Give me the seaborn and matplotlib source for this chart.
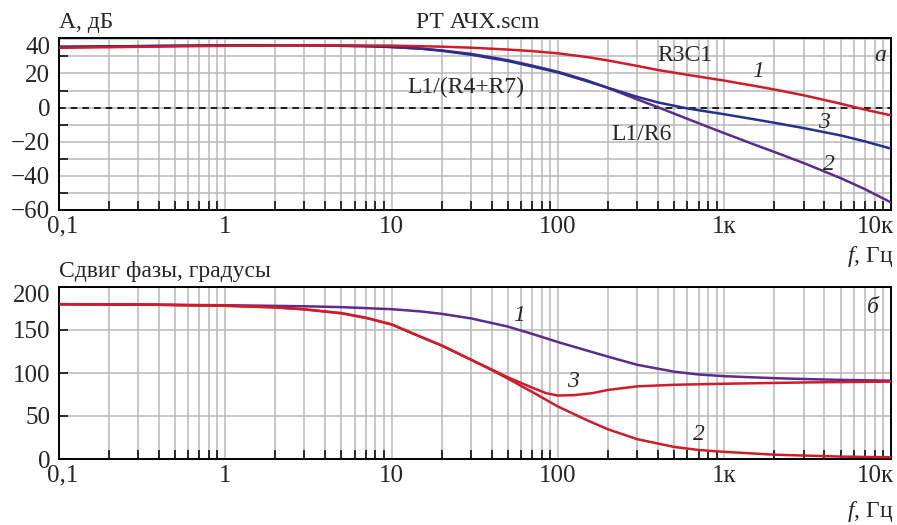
import numpy as np
import pandas as pd
import matplotlib
matplotlib.use("Agg")
import matplotlib.pyplot as plt
import seaborn as sns
from matplotlib.ticker import FixedLocator, NullFormatter, LogLocator
import matplotlib.transforms as mtransforms

# ---------------- data ----------------
# Amplitude (dB)
amp1_f = [0.1, 0.3, 1, 3, 10, 20, 30, 50, 70, 100, 150, 200, 300, 400, 600, 1000, 1500, 2000, 3000, 5000, 7000, 10000]
amp1_v = [35.0, 35.6, 36.2, 36.5, 36.3, 35.7, 35.1, 34.0, 33.1, 31.8, 29.6, 27.6, 24.4, 22.0, 19.2, 15.8, 12.8, 10.6, 7.2, 2.3, -1.2, -4.5]

amp3_f = [0.1, 0.3, 1, 3, 7, 10, 15, 20, 30, 50, 70, 100, 150, 200, 300, 400, 600, 1000, 1500, 2000, 3000, 5000, 7000, 10000]
amp3_v = [35.6, 36.0, 36.5, 36.5, 36.0, 35.5, 34.5, 33.3, 31.0, 27.3, 24.1, 20.6, 15.4, 11.6, 6.3, 3.0, -0.5, -3.9, -6.8, -8.9, -12.0, -16.3, -19.8, -24.0]

amp2_f = [0.1, 0.3, 1, 3, 7, 10, 15, 20, 30, 50, 70, 100, 150, 200, 300, 400, 600, 1000, 1500, 2000, 3000, 5000, 7000, 10000]
amp2_v = [35.6, 36.0, 36.5, 36.5, 36.0, 35.5, 34.6, 33.5, 31.5, 27.8, 24.6, 21.0, 15.9, 11.5, 4.8, 0.2, -6.6, -15.0, -21.5, -26.0, -32.5, -41.3, -47.8, -55.5]

# Phase (degrees)
ph1_f = [0.1, 0.3, 1, 3, 5, 10, 15, 20, 30, 50, 70, 100, 150, 200, 300, 500, 700, 1000, 2000, 3000, 5000, 10000]
ph1_v = [180, 179.6, 178.8, 177.6, 176.6, 174.2, 171.6, 168.8, 163.5, 154, 145.5, 136, 126, 119, 109.5, 101.5, 98.3, 96.3, 94, 93, 92, 91]

ph2_f = [0.1, 0.3, 1, 2, 3, 5, 7, 10, 15, 20, 30, 40, 50, 70, 100, 150, 200, 300, 500, 700, 1000, 2000, 5000, 10000]
ph2_v = [180, 179.6, 178.2, 176.3, 174, 169.5, 164.2, 156.5, 142, 132, 115.5, 103.5, 93.5, 78, 61, 45, 34.5, 23, 14, 10.5, 8.3, 5, 2.8, 2]

ph3_f = [0.1, 0.3, 1, 2, 3, 5, 7, 10, 15, 20, 30, 40, 50, 60, 70, 85, 100, 125, 160, 200, 300, 500, 1000, 3000, 10000]
ph3_v = [180, 179.6, 178.2, 176.3, 174, 169.5, 164.2, 156.5, 142, 132, 115.5, 104, 95, 88.5, 83, 76.5, 73.8, 74.3, 76.5, 80.3, 84.5, 86.3, 87.5, 89, 90]

x_ticks = [0.1, 1, 10, 100, 1000, 10000]
x_labels = ["0,1", "1", "10", "100", "1к", "10к"]
amp_ticks = [-60, -40, -20, 0, 20, 40]
amp_labels = ["\u221260", "\u221240", "\u221220", "0", "20", "40"]
amp_minor = [-50, -30, -10, 10, 30]
ph_ticks = [0, 50, 100, 150, 200]

RED = "#d01c2a"
NAVY = "#27308c"
PURPLE = "#5c2a90"
GRID = "#b8b8b8"

# ---------------- style ----------------
sns.set_style("white")
plt.rcParams["font.family"] = ["Liberation Serif", "DejaVu Serif"]
plt.rcParams["mathtext.fontset"] = "custom"
plt.rcParams["mathtext.it"] = "Liberation Serif:italic"
plt.rcParams["mathtext.rm"] = "Liberation Serif"
FS = 17      # annotation / title text
TFS = 18     # tick labels

fig = plt.figure(figsize=(8.97, 5.25), dpi=100)
W, H = 897, 525
def ax_rect(l, t, r, b):
    return [l / W, 1 - b / H, (r - l) / W, (b - t) / H]

ax1 = fig.add_axes(ax_rect(58.7, 38.3, 890.7, 210))
ax2 = fig.add_axes(ax_rect(58.7, 287, 890.7, 459))

def style_x(ax):
    ax.set_xscale("log")
    ax.set_xlim(0.1, 10000)
    ax.xaxis.set_major_locator(FixedLocator(x_ticks))
    ax.set_xticklabels(x_labels, fontsize=TFS)
    ax.xaxis.set_minor_locator(LogLocator(base=10, subs=range(2, 10), numticks=20))
    ax.xaxis.set_minor_formatter(NullFormatter())
    ax.tick_params(axis="x", which="both", bottom=True, top=False)
    ax.tick_params(axis="x", which="major", length=0, pad=4)
    ax.tick_params(axis="x", which="minor", direction="in", length=6.5, width=1.1, color="black")
    ax.grid(True, axis="x", which="both", color=GRID, lw=1.1)
    ax.set_axisbelow(True)
    for s in ax.spines.values():
        s.set_color("black")
        s.set_linewidth(1.4)
    labs = ax.get_xticklabels()
    labs[0].set_transform(labs[0].get_transform() + mtransforms.ScaledTranslation(4 / 100, 0, fig.dpi_scale_trans))
    labs[-1].set_horizontalalignment("right")
    labs[-1].set_transform(labs[-1].get_transform() + mtransforms.ScaledTranslation(3 / 100, 0, fig.dpi_scale_trans))

# ---- top: amplitude ----
amp_df = pd.concat([
    pd.DataFrame({"f": amp1_f, "v": amp1_v, "c": "1"}),
    pd.DataFrame({"f": amp3_f, "v": amp3_v, "c": "3"}),
    pd.DataFrame({"f": amp2_f, "v": amp2_v, "c": "2"}),
])
ax1.axhline(0, color="black", lw=1.2, ls=(0, (4, 3)), zorder=1.5)
sns.lineplot(data=amp_df, x="f", y="v", hue="c", palette={"1": RED, "3": NAVY, "2": PURPLE},
             hue_order=["2", "3", "1"], estimator=None, lw=1.8, legend=False, ax=ax1, zorder=3)
style_x(ax1)
ax1.set_ylim(-60, 40.6)
ax1.yaxis.set_major_locator(FixedLocator(amp_ticks))
ax1.set_yticklabels(amp_labels, fontsize=TFS)
ax1.yaxis.set_minor_locator(FixedLocator(amp_minor))
ax1.tick_params(axis="y", which="both", left=True, right=False)
ax1.tick_params(axis="y", which="major", length=0, pad=6)
ax1.tick_params(axis="y", which="minor", direction="in", length=6.5, width=1.1, color="black")
ax1.grid(True, axis="y", which="both", color=GRID, lw=1.1)
ax1.set_xlabel("")
ax1.set_ylabel("")

ax1.text(577, 30.8, "R3C1", fontsize=FS, ha="center", va="center")
ax1.text(1590, 21.0, "1", fontsize=FS, style="italic", ha="center", va="center")
ax1.text(28, 11.9, "L1/(R4+R7)", fontsize=FS, ha="center", va="center")
ax1.text(3960, -8.6, "3", fontsize=FS, style="italic", ha="center", va="center")
ax1.text(318, -16.0, "L1/R6", fontsize=FS, ha="center", va="center")
ax1.text(4250, -33.5, "2", fontsize=FS, style="italic", ha="center", va="center")
ax1.text(0.987, 0.9, "а", fontsize=FS, style="italic", ha="center", va="center", transform=ax1.transAxes)

# ---- bottom: phase ----
ph_df = pd.concat([
    pd.DataFrame({"f": ph1_f, "v": ph1_v, "c": "1"}),
    pd.DataFrame({"f": ph2_f, "v": ph2_v, "c": "2"}),
    pd.DataFrame({"f": ph3_f, "v": ph3_v, "c": "3"}),
])
sns.lineplot(data=ph_df, x="f", y="v", hue="c", palette={"1": PURPLE, "2": RED, "3": RED},
             estimator=None, lw=1.8, legend=False, ax=ax2, zorder=3)
style_x(ax2)
ax2.set_ylim(0, 200)
ax2.yaxis.set_major_locator(FixedLocator(ph_ticks))
ax2.set_yticklabels([str(t) for t in ph_ticks], fontsize=TFS)
ax2.tick_params(axis="y", which="both", left=True, right=False)
ax2.tick_params(axis="y", which="major", direction="in", length=6.5, width=1.1, color="black", pad=6)
ax2.grid(True, axis="y", which="major", color=GRID, lw=1.1)
ax2.set_xlabel("")
ax2.set_ylabel("")

ax2.text(58.5, 167, "1", fontsize=FS, style="italic", ha="center", va="center")
ax2.text(124, 90.5, "3", fontsize=FS, style="italic", ha="center", va="center")
ax2.text(700, 29, "2", fontsize=FS, style="italic", ha="center", va="center")
ax2.text(0.979, 0.878, "б", fontsize=FS, style="italic", ha="center", va="center", transform=ax2.transAxes)

# shift top y labels down slightly
for ax in (ax1, ax2):
    lab = ax.get_yticklabels()[-1]
    lab.set_transform(lab.get_transform() + mtransforms.ScaledTranslation(0, -6 / 100, fig.dpi_scale_trans))

# ---- figure texts ----
fig.text(58.7 / W, 1 - 28 / H, "А, дБ", fontsize=FS, ha="left", va="baseline")
fig.text(478 / W, 1 - 28 / H, "РТ АЧХ.scm", fontsize=FS, ha="center", va="baseline")
fig.text(58.7 / W, 1 - 277 / H, "Сдвиг фазы, градусы", fontsize=FS, ha="left", va="baseline")
fig.text(893 / W, 1 - 262 / H, "$f$, Гц", fontsize=FS, ha="right", va="baseline")
fig.text(893 / W, 1 - 517 / H, "$f$, Гц", fontsize=FS, ha="right", va="baseline")

fig.savefig("out.png", dpi=100)
